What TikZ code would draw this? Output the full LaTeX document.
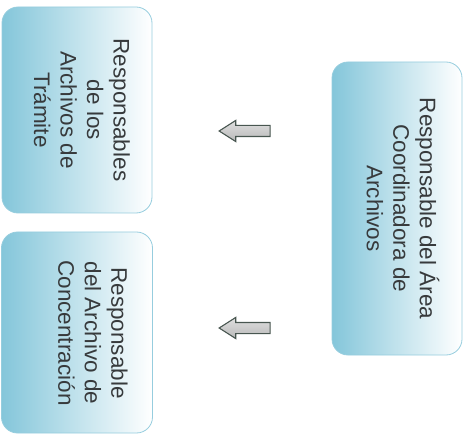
\documentclass[tikz,border=0pt]{standalone}
\usepackage{fontspec}
\setmainfont{Liberation Sans}
\usetikzlibrary{shapes.arrows}

\definecolor{boxblue}{RGB}{132,198,218}
\definecolor{boxline}{RGB}{150,205,222}
\definecolor{txtgray}{RGB}{55,58,60}
\definecolor{arrowline}{RGB}{72,86,80}

\tikzset{
	cajon/.style={draw=boxline, line width=0.8pt, rounded corners=16pt,
		left color=boxblue, right color=white, inner sep=0pt},
	rotulo/.style={rotate=-90, align=center, text=txtgray, inner sep=0pt,
		font=\fontsize{22.5}{26.5}\selectfont},
	flecha/.style={single arrow, shape border rotate=180, draw=arrowline,
		line width=1.1pt, top color=gray!25, bottom color=gray!55,
		minimum height=51pt, minimum width=20pt, inner sep=5pt,
		single arrow head extend=5pt, single arrow tip angle=65}
}

\begin{document}
\begin{tikzpicture}[x=1pt,y=1pt]

\useasboundingbox (0,0) rectangle (474,437);

\node[cajon, minimum width=150pt, minimum height=206pt] (b1) at (77,327) {};
\node[cajon, minimum width=151pt, minimum height=201pt] (b2) at (77,104.5) {};
\node[cajon, minimum width=130pt, minimum height=293pt] (b3) at (397,228.5) {};

\node[rotulo] (t1) at (82,327)		{Responsables\\de los\\Archivos de\\Trámite};
\node[rotulo] (t2) at (93,104)		{Responsable\\del Archivo de\\Concentración};
\node[rotulo] (t3) at (403,228.5)	{Responsable del Área\\Coordinadora de\\Archivos};

\node[flecha] (f1) at (249,306) {};
\node[flecha] (f2) at (249,109) {};

\end{tikzpicture}
\end{document}
